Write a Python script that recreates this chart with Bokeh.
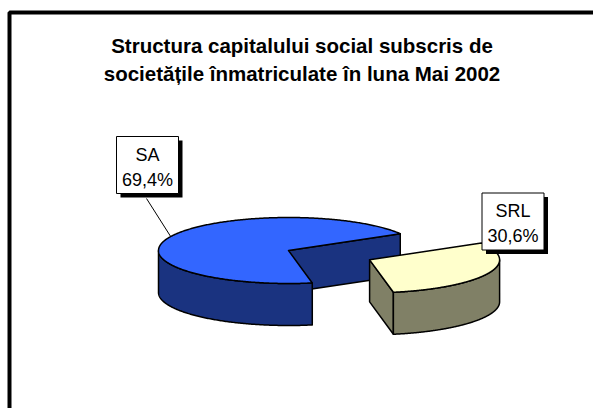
import numpy as np
from bokeh.plotting import figure
from bokeh.models import Range1d
from bokeh.embed import file_html
from bokeh.resources import INLINE
from bokeh.core.properties import value

# ---------------- data ----------------
categories = ["SA", "SRL"]
shares = [69.4, 30.6]
share_labels = ["69,4%", "30,6%"]
top_colors = ["#3366FF", "#FFFFCC"]
side_colors = ["#1A3380", "#808066"]
explode = [0.0, 0.685]
title_lines = ["Structura capitalului social subscris de",
               "societățile înmatriculate în luna Mai 2002"]

# ---------------- layout ----------------
W, H = 593, 408
OX, OY = 0, 0
CX, CY = 288.0, 250.0      # pie centre (page px)
RX, RY = 130.0, 33.0       # ellipse radii
DEPTH = 42.0               # pie thickness
START = 30.7               # start angle in degrees (counter-clockwise)
TXT_SHIFT = -5.0           # baseline correction for text

p = figure(width=W, height=H, output_backend="svg", toolbar_location=None,
           x_range=Range1d(OX, OX + W), y_range=Range1d(OY + H, OY),
           x_axis_location=None, y_axis_location=None, min_border=0)
p.grid.visible = False
p.outline_line_color = None
p.background_fill_color = "white"
p.border_fill_color = "white"

# chart frame (only left and top edges are inside the window)
p.quad(left=[9], right=[900], top=[12], bottom=[900], fill_color=None,
       line_color="black", line_width=4)


def pt(cx, cy, deg, dz=0.0):
    t = np.radians(deg)
    return cx + RX * np.cos(t), cy - RY * np.sin(t) + dz


face_xs, face_ys, face_fill = [], [], []

a0 = START
for i, s in enumerate(shares):
    a1 = a0 + s / 100.0 * 360.0
    mid = np.radians((a0 + a1) / 2)
    cx = CX + explode[i] * RX * np.cos(mid)
    cy = CY - explode[i] * RY * np.sin(mid)

    # cut faces
    for edge, normal in ((a0, a0 - 90), (a1, a1 + 90)):
        if np.sin(np.radians(normal)) < 0:
            ex, ey = pt(cx, cy, edge)
            face_xs.append([cx, ex, ex, cx])
            face_ys.append([cy, ey, ey + DEPTH, cy + DEPTH])
            face_fill.append(side_colors[i])

    # outer walls (front half only)
    th = np.linspace(a0, a1, 400)
    vis = np.sin(np.radians(th)) <= 1e-9
    runs, cur = [], []
    for t, v in zip(th, vis):
        if v:
            cur.append(t)
        elif cur:
            runs.append(cur); cur = []
    if cur:
        runs.append(cur)
    for r in runs:
        r = np.array(r)
        tx, ty = pt(cx, cy, r)
        face_xs.append(list(tx) + list(tx[::-1]))
        face_ys.append(list(ty) + list((ty + DEPTH)[::-1]))
        face_fill.append(side_colors[i])

    # top face
    tx, ty = pt(cx, cy, th)
    face_xs.append([cx] + list(tx))
    face_ys.append([cy] + list(ty))
    face_fill.append(top_colors[i])

    a0 = a1

p.patches(face_xs, face_ys, fill_color=face_fill, line_color="black",
          line_width=1.5, line_join="round")

# ---------------- labels ----------------
box_centres = [(147.0, 164.5), (512.5, 221.0)]
BW, BH, SH = 62.0, 57.0, 4.0

# leader line for SA
lx, ly = pt(CX, CY, 155.0)
p.line([box_centres[0][0] - 1, lx], [box_centres[0][1] + BH / 2 + SH + 1, ly],
       line_color="black", line_width=1)

for i, (bx, by) in enumerate(box_centres):
    p.quad(left=[bx - BW / 2 + SH], right=[bx + BW / 2 + SH],
           top=[by - BH / 2 + SH], bottom=[by + BH / 2 + SH],
           fill_color="black", line_color=None)
    p.quad(left=[bx - BW / 2], right=[bx + BW / 2],
           top=[by - BH / 2], bottom=[by + BH / 2],
           fill_color="white", line_color="black", line_width=1)
    p.text(x=[bx, bx], y=[by - 5.5 + TXT_SHIFT, by + 19.5 + TXT_SHIFT],
           text=[categories[i], share_labels[i]],
           text_font=value("Liberation Sans"), text_font_size="18px",
           text_align="center", text_baseline="alphabetic", text_color="black")

# ---------------- title ----------------
p.text(x=[301.5, 301.5], y=[50 + TXT_SHIFT, 78 + TXT_SHIFT], text=title_lines,
       text_font=value("Liberation Sans"), text_font_size="20.5px",
       text_font_style="bold", text_align="center", text_baseline="alphabetic",
       text_color="black")

open("out.html", "w").write(file_html(p, INLINE))
